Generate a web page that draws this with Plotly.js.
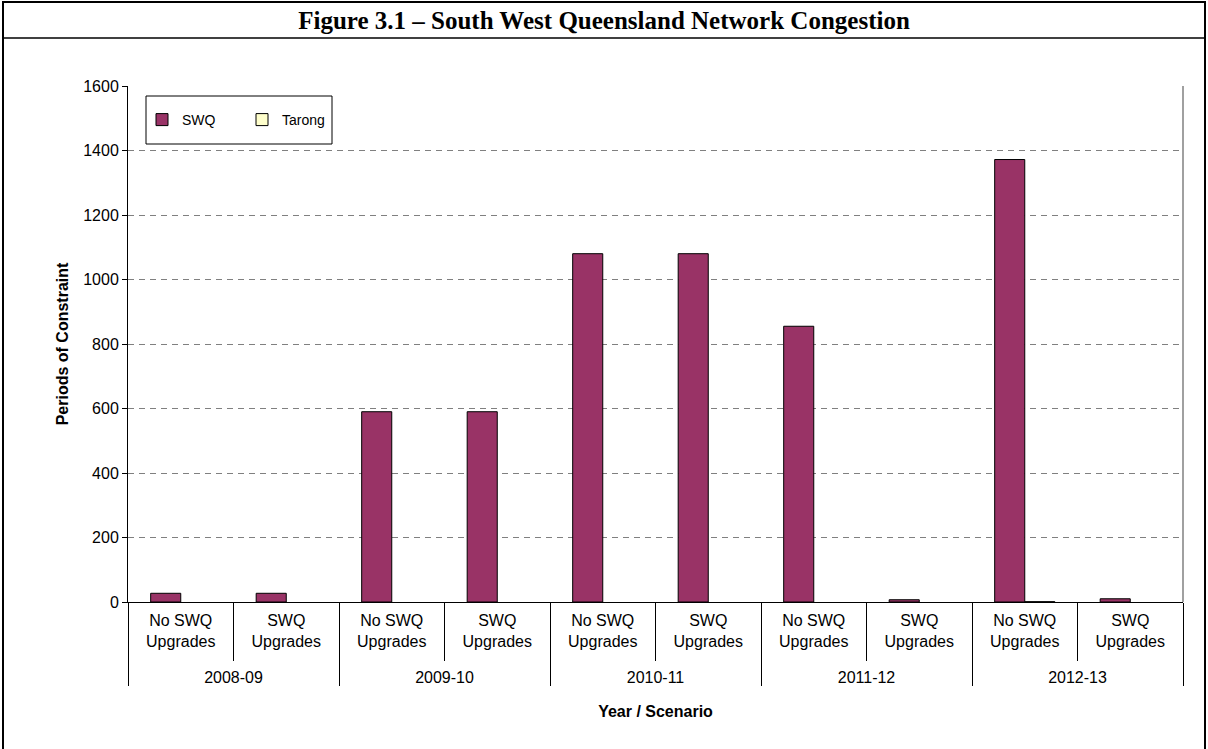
<!DOCTYPE html>
<html>
<head>
<meta charset="utf-8">
<script src="https://cdn.plot.ly/plotly-3.0.1.min.js"></script>
<style>html,body{margin:0;padding:0;background:#fff}#chart{width:1208px;height:749px}</style>
</head>
<body>
<div id="chart"></div>
<script>
const years = ['2008-09','2008-09','2009-10','2009-10','2010-11','2010-11','2011-12','2011-12','2012-13','2012-13'];
const scenarios = ['No SWQ<br>Upgrades<br> ','SWQ<br>Upgrades<br> ','No SWQ<br>Upgrades<br> ','SWQ<br>Upgrades<br> ','No SWQ<br>Upgrades<br> ','SWQ<br>Upgrades<br> ','No SWQ<br>Upgrades<br> ','SWQ<br>Upgrades<br> ','No SWQ<br>Upgrades<br> ','SWQ<br>Upgrades<br> '];
const swq = [27, 27, 590, 590, 1080, 1080, 855, 7, 1372, 10];
const tarong = [0, 0, 0, 0, 0, 0, 0, 0, 1, 0];
const yTicks = [0, 200, 400, 600, 800, 1000, 1200, 1400, 1600];

const font = 'Liberation Sans, Arial, sans-serif';
const W = 1208, H = 749, L = 128, R = 25, T = 86, B = 147;
const pw = W - L - R, ph = H - T - B;
const px = x => (x - L) / pw;
const py = y => (H - B - y) / ph;

// zero-valued bars are not drawn (as in the source chart)
const hideZero = arr => arr.map(v => v === 0 ? null : v);

const traces = [
  {type:'bar', name:'SWQ', x:[years, scenarios], y:hideZero(swq),
   marker:{color:'#993366', line:{color:'#000000', width:1}}},
  {type:'bar', name:'Tarong', x:[years, scenarios], y:hideZero(tarong),
   marker:{color:'#FFFFCC', line:{color:'#000000', width:1}}}
];

const layout = {
  width: W, height: H,
  margin:{l:L, r:R, t:T, b:B, pad:0},
  paper_bgcolor:'#ffffff', plot_bgcolor:'#ffffff',
  font:{family:font, size:16, color:'#000'},
  barmode:'group', bargap:0.43, bargroupgap:0,
  title:{text:'Figure 3.1 – South West Queensland Network Congestion',
         font:{family:'Liberation Serif, Times New Roman, serif', size:25, color:'#000', weight:'bold'},
         x:0.5, xref:'container', xanchor:'center', y:1-20/H, yref:'container', yanchor:'middle'},
  showlegend:true,
  legend:{orientation:'h', x:px(142), y:py(120), xanchor:'left', yanchor:'middle',
          bgcolor:'rgba(0,0,0,0)', borderwidth:0, font:{family:font, size:14, color:'#000'},
          entrywidth:55, entrywidthmode:'pixels', traceorder:'normal'},
  xaxis:{type:'multicategory', showline:true, linecolor:'#000', linewidth:1,
         ticks:'outside', ticklen:58, tickcolor:'#000', tickwidth:1,
         ticklabelstandoff:4,
         showdividers:true, dividercolor:'#000', dividerwidth:1,
         tickfont:{family:font, size:16, color:'#000'},
         title:{text:'Year / Scenario', font:{family:font, size:16, color:'#000', weight:'bold'}, standoff:21},
         showgrid:false, zeroline:false},
  yaxis:{range:[0,1600], tickvals:yTicks, showline:true, linecolor:'#000', linewidth:1,
         ticks:'outside', ticklen:5, tickcolor:'#000',
         tickfont:{family:font, size:16, color:'#000'},
         showgrid:true, gridcolor:'#808080', gridwidth:1, griddash:'6px,5px',
         zeroline:false,
         title:{text:'Periods of Constraint', font:{family:font, size:16, color:'#000', weight:'bold'}, standoff:10}},
  shapes:[
    {type:'rect', xref:'paper', yref:'paper', x0:px(3), x1:px(1205), y0:py(2), y1:py(760), line:{color:'#000', width:2}, fillcolor:'rgba(0,0,0,0)', layer:'below'},
    {type:'line', xref:'paper', yref:'paper', x0:px(3), x1:px(1205), y0:py(38), y1:py(38), line:{color:'#000', width:1.5}},
    {type:'line', xref:'paper', yref:'paper', x0:1, x1:1, y0:0, y1:1, line:{color:'#808080', width:1.5}},
    {type:'rect', xref:'paper', yref:'paper', x0:px(146), x1:px(332), y0:py(96), y1:py(144), line:{color:'#000', width:1}, fillcolor:'#ffffff', layer:'above'}
  ]
};

Plotly.newPlot('chart', traces, layout, {displayModeBar:false, staticPlot:true});
</script>
</body>
</html>
